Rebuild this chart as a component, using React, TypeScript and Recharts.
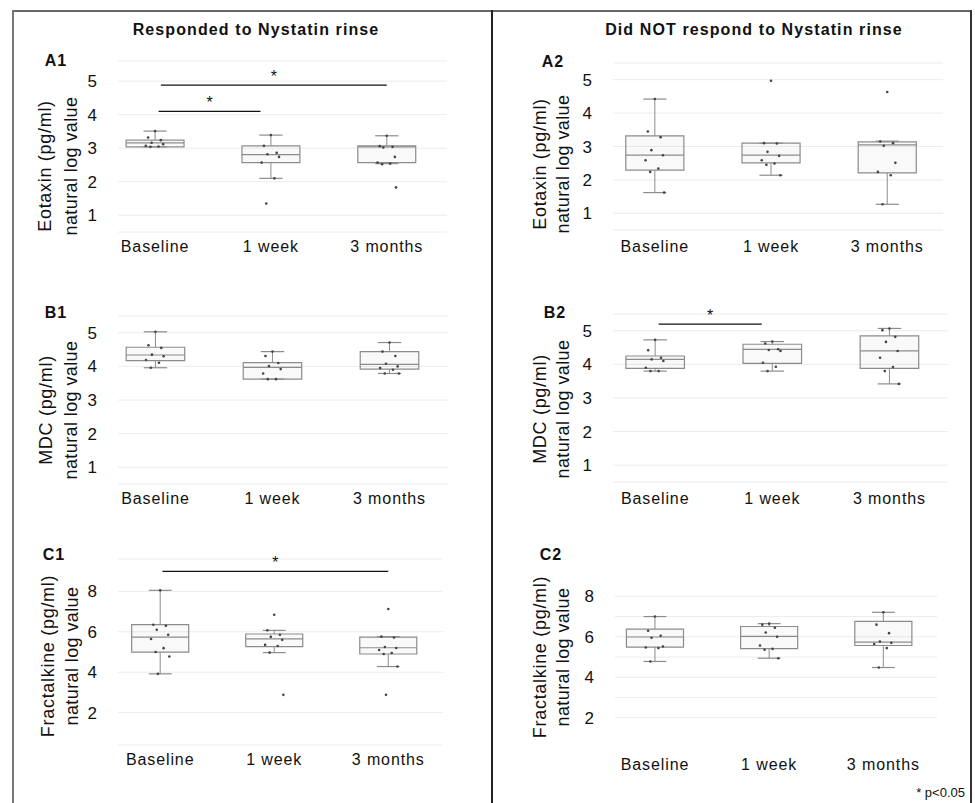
import {
  ComposedChart,
  XAxis,
  YAxis,
  CartesianGrid,
  Scatter,
  ReferenceArea,
  ReferenceLine,
} from 'recharts'

const CATEGORIES = ['Baseline', '1 week', '3 months']

// box stats per time point: [lower whisker, Q1, median, Q3, upper whisker]
const A1_BOXES = [
  [3.04, 3.04, 3.16, 3.24, 3.51],
  [2.1, 2.57, 2.81, 3.07, 3.39],
  [2.54, 2.57, 3.04, 3.07, 3.37],
]
const A1_POINTS = [
  [3.51, 3.32, 3.24, 3.16, 3.12, 3.07, 3.05, 3.04],
  [3.39, 3.07, 2.86, 2.82, 2.74, 2.57, 2.1, 1.35],
  [3.37, 3.06, 3.04, 3.02, 2.74, 2.57, 2.54, 2.52, 1.83],
]

const A2_BOXES = [
  [1.62, 2.29, 2.74, 3.32, 4.42],
  [2.14, 2.51, 2.74, 3.1, 3.1],
  [1.27, 2.21, 3.05, 3.14, 3.16],
]
const A2_POINTS = [
  [4.42, 3.45, 3.28, 2.89, 2.74, 2.59, 2.34, 2.24, 1.62],
  [4.97, 3.1, 3.09, 2.84, 2.72, 2.59, 2.49, 2.45, 2.14],
  [4.63, 3.15, 3.1, 3.02, 2.51, 2.24, 2.14, 1.27],
]

const B1_BOXES = [
  [3.96, 4.17, 4.34, 4.57, 5.03],
  [3.62, 3.62, 3.97, 4.11, 4.44],
  [3.79, 3.92, 4.06, 4.44, 4.71],
]
const B1_POINTS = [
  [5.03, 4.63, 4.55, 4.35, 4.3, 4.19, 4.11, 3.96],
  [4.44, 4.31, 4.1, 4.01, 3.92, 3.79, 3.62, 3.62],
  [4.71, 4.44, 4.31, 4.08, 4.0, 3.95, 3.9, 3.79, 3.79],
]

const B2_BOXES = [
  [3.8, 3.88, 4.15, 4.25, 4.73],
  [3.8, 4.03, 4.45, 4.6, 4.68],
  [3.42, 3.88, 4.4, 4.85, 5.07],
]
const B2_POINTS = [
  [4.73, 4.42, 4.2, 4.15, 4.1, 3.9, 3.8, 3.8],
  [4.68, 4.62, 4.45, 4.43, 4.4, 4.05, 3.93, 3.8],
  [5.07, 5.02, 4.82, 4.67, 4.4, 4.2, 3.92, 3.8, 3.42],
]

const C1_BOXES = [
  [3.92, 4.99, 5.74, 6.35, 8.05],
  [4.97, 5.27, 5.65, 5.89, 6.07],
  [4.28, 4.9, 5.21, 5.74, 5.76],
]
const C1_POINTS = [
  [8.05, 6.35, 6.3, 6.1, 5.85, 5.64, 5.19, 5.0, 4.78, 3.92],
  [6.84, 6.07, 5.85, 5.75, 5.6, 5.35, 5.3, 4.97, 2.88],
  [7.13, 5.76, 5.72, 5.25, 5.2, 5.1, 4.95, 4.9, 4.28, 2.88],
]

const C2_BOXES = [
  [4.78, 5.49, 5.99, 6.38, 7.0],
  [4.94, 5.41, 6.02, 6.51, 6.65],
  [4.48, 5.57, 5.74, 6.76, 7.21],
]
const C2_POINTS = [
  [7.0, 6.3, 6.05, 5.95, 5.52, 5.47, 5.44, 4.78],
  [6.65, 6.6, 6.45, 6.21, 6.0, 5.57, 5.4, 5.36, 4.94],
  [7.21, 6.6, 6.18, 5.77, 5.7, 5.64, 5.44, 4.48],
]

// significance brackets (category positions, y level)
const A1_SIG = [
  { from: 0.05, to: 2.0, level: 4.88 },
  { from: 0.03, to: 0.91, level: 4.1 },
]
const B2_SIG = [{ from: 0.03, to: 0.91, level: 5.2 }]
const C1_SIG = [{ from: 0.02, to: 2.0, level: 8.99 }]

const LOG_TICKS = [1, 2, 3, 4, 5]
const FRAC_TICKS = [2, 4, 6, 8]

// small horizontal spread for the dots
const JITTER = [0, -0.06, 0.05, -0.03, 0.07, -0.08, 0.03, -0.04, 0.08, -0.02]
const BOX_HALF = 0.25
const CAP_HALF = 0.1
const BOX_STROKE = '#8c8c8c'
const FONT = '"Liberation Sans", Arial, Helvetica, sans-serif'

type Bracket = { from: number; to: number; level: number }
type PanelCfg = {
  boxes: number[][]
  points: number[][]
  brackets: Bracket[]
  yDomain: [number, number]
  yTicks: number[]
  grid?: number[]
  xDomain: [number, number]
  plot: { left: number; top: number; width: number; height: number }
  labelGap: number
}

const PANELS: PanelCfg[] = [
  {
    boxes: A1_BOXES, points: A1_POINTS, brackets: A1_SIG,
    yDomain: [0.5, 5.6], yTicks: LOG_TICKS, xDomain: [-0.32, 2.52],
    plot: { left: 118, top: 61, width: 329, height: 171 }, labelGap: 9,
  },
  {
    boxes: B1_BOXES, points: B1_POINTS, brackets: [],
    yDomain: [0.5, 5.5], yTicks: LOG_TICKS, xDomain: [-0.32, 2.5],
    plot: { left: 118, top: 316, width: 330, height: 168 }, labelGap: 9,
  },
  {
    boxes: C1_BOXES, points: C1_POINTS, brackets: C1_SIG,
    yDomain: [0.4, 9.6], yTicks: FRAC_TICKS, xDomain: [-0.37, 2.48],
    plot: { left: 118, top: 559, width: 325, height: 186 }, labelGap: 9,
  },
  {
    boxes: A2_BOXES, points: A2_POINTS, brackets: [],
    yDomain: [0.5, 5.5], yTicks: LOG_TICKS, xDomain: [-0.36, 2.48],
    plot: { left: 613, top: 63, width: 330, height: 167 }, labelGap: 11,
  },
  {
    boxes: B2_BOXES, points: B2_POINTS, brackets: B2_SIG,
    yDomain: [0.5, 5.5], yTicks: LOG_TICKS, xDomain: [-0.36, 2.5],
    plot: { left: 613, top: 314, width: 335, height: 168 }, labelGap: 11,
  },
  {
    boxes: C2_BOXES, points: C2_POINTS, brackets: [],
    yDomain: [0.45, 9.6], yTicks: FRAC_TICKS, grid: [2, 3, 4, 5, 6, 7, 8], xDomain: [-0.35, 2.47],
    plot: { left: 615, top: 564, width: 322, height: 185 }, labelGap: 10,
  },
]

const PANEL_LETTERS = [
  { text: 'A1', x: 56, y: 61 },
  { text: 'B1', x: 56, y: 313 },
  { text: 'C1', x: 54, y: 555 },
  { text: 'A2', x: 553, y: 62 },
  { text: 'B2', x: 555, y: 313 },
  { text: 'C2', x: 551, y: 555 },
]

const Y_TITLES = [
  { lines: ['Eotaxin (pg/ml)', 'natural log value'], x1: 45, x2: 71, y: 166 },
  { lines: ['MDC (pg/ml)', 'natural log value'], x1: 46, x2: 71, y: 410 },
  { lines: ['Fractalkine (pg/ml)', 'natural log value'], x1: 48, x2: 72, y: 656 },
  { lines: ['Eotaxin (pg/ml)', 'natural log value'], x1: 540, x2: 563, y: 164 },
  { lines: ['MDC (pg/ml)', 'natural log value'], x1: 540, x2: 563, y: 409 },
  { lines: ['Fractalkine (pg/ml)', 'natural log value'], x1: 540, x2: 563, y: 657 },
]

function Dot(props: any) {
  const { cx, cy } = props
  if (cx == null || cy == null) return null
  return <circle cx={cx} cy={cy} r={1.3} fill="#444" />
}

function BoxPanel({ cfg }: { cfg: PanelCfg }) {
  const { plot } = cfg
  const pts = cfg.points.flatMap((vals, i) =>
    vals.map((v, j) => ({ x: i + JITTER[j % JITTER.length], y: v }))
  )

  const boxEls = cfg.boxes.flatMap(([lo, q1, med, q3, hi], i) => [
    <ReferenceLine key={`wl${i}`} segment={[{ x: i, y: lo }, { x: i, y: q1 }]} stroke={BOX_STROKE} strokeWidth={1} />,
    <ReferenceLine key={`wh${i}`} segment={[{ x: i, y: q3 }, { x: i, y: hi }]} stroke={BOX_STROKE} strokeWidth={1} />,
    <ReferenceLine key={`cl${i}`} segment={[{ x: i - CAP_HALF, y: lo }, { x: i + CAP_HALF, y: lo }]} stroke={BOX_STROKE} strokeWidth={1.2} />,
    <ReferenceLine key={`ch${i}`} segment={[{ x: i - CAP_HALF, y: hi }, { x: i + CAP_HALF, y: hi }]} stroke={BOX_STROKE} strokeWidth={1.2} />,
    <ReferenceArea
      key={`bx${i}`}
      x1={i - BOX_HALF}
      x2={i + BOX_HALF}
      y1={q1}
      y2={q3}
      fill="#000"
      fillOpacity={0.025}
      stroke={BOX_STROKE}
      strokeWidth={1.2}
    />,
    <ReferenceLine key={`md${i}`} segment={[{ x: i - BOX_HALF, y: med }, { x: i + BOX_HALF, y: med }]} stroke={BOX_STROKE} strokeWidth={1.2} />,
  ])

  const sigEls = cfg.brackets.map((b, k) => (
    <ReferenceLine
      key={`sig${k}`}
      segment={[{ x: b.from, y: b.level }, { x: b.to, y: b.level }]}
      stroke="#111"
      strokeWidth={1.3}
      label={{ value: '*', position: 'top', offset: 3, fontSize: 16, fill: '#111' }}
    />
  ))

  return (
    <div style={{ position: 'absolute', left: plot.left - 100, top: plot.top - 30 }}>
      <ComposedChart
        width={plot.width + 110}
        height={plot.height + 70}
        margin={{ top: 30, right: 10, bottom: 0, left: 0 }}
      >
        <CartesianGrid vertical={false} stroke="#ececec" horizontalValues={cfg.grid} />
        <XAxis
          type="number"
          dataKey="x"
          domain={cfg.xDomain}
          ticks={[0, 1, 2]}
          interval={0}
          allowDataOverflow
          tickFormatter={(v: number) => CATEGORIES[v]}
          axisLine={false}
          tickLine={false}
          tickSize={0}
          tickMargin={cfg.labelGap}
          height={40}
          tick={{ fontSize: 16, fill: '#111', letterSpacing: 0.9 }}
        />
        <YAxis
          type="number"
          dataKey="y"
          domain={cfg.yDomain}
          ticks={cfg.yTicks}
          interval={0}
          allowDataOverflow
          axisLine={false}
          tickLine={false}
          tickSize={0}
          tickMargin={21}
          width={100}
          tick={{ fontSize: 17, fill: '#111' }}
        />
        {boxEls}
        {sigEls}
        <Scatter data={pts} dataKey="y" shape={<Dot />} isAnimationActive={false} />
      </ComposedChart>
    </div>
  )
}

const textBase: React.CSSProperties = {
  position: 'absolute',
  whiteSpace: 'nowrap',
  color: '#111',
  lineHeight: 1,
}

export default function App() {
  return (
    <div
      style={{
        position: 'absolute',
        left: 0,
        top: 0,
        width: 975,
        height: 803,
        background: '#fff',
        fontFamily: FONT,
        overflow: 'hidden',
      }}
    >
      {/* frame */}
      <div style={{ position: 'absolute', left: 12, top: 10, width: 960, height: 2, background: '#666' }} />
      <div style={{ position: 'absolute', left: 12, top: 10, width: 2, height: 793, background: '#777' }} />
      <div style={{ position: 'absolute', left: 970, top: 10, width: 1.5, height: 793, background: '#333' }} />
      <div style={{ position: 'absolute', left: 491, top: 10, width: 2, height: 793, background: '#222' }} />

      <div style={{ ...textBase, left: 256, top: 30, transform: 'translate(-50%,-50%)', fontWeight: 700, fontSize: 16, letterSpacing: 1.1 }}>
        Responded to Nystatin rinse
      </div>
      <div style={{ ...textBase, left: 754, top: 30, transform: 'translate(-50%,-50%)', fontWeight: 700, fontSize: 16, letterSpacing: 1.1 }}>
        Did NOT respond to Nystatin rinse
      </div>

      {PANEL_LETTERS.map((p) => (
        <div
          key={p.text}
          style={{ ...textBase, left: p.x, top: p.y, transform: 'translate(-50%,-50%)', fontWeight: 700, fontSize: 16, letterSpacing: 1 }}
        >
          {p.text}
        </div>
      ))}

      {Y_TITLES.map((t, i) => (
        <div key={i}>
          <div style={{ ...textBase, left: t.x1, top: t.y, transform: 'translate(-50%,-50%) rotate(-90deg)', fontSize: 18, letterSpacing: 0.7 }}>
            {t.lines[0]}
          </div>
          <div style={{ ...textBase, left: t.x2, top: t.y, transform: 'translate(-50%,-50%) rotate(-90deg)', fontSize: 18, letterSpacing: 0.4 }}>
            {t.lines[1]}
          </div>
        </div>
      ))}

      {PANELS.map((cfg, i) => (
        <BoxPanel key={i} cfg={cfg} />
      ))}

      <div style={{ ...textBase, right: 975 - 965, top: 792, transform: 'translateY(-50%)', fontSize: 13 }}>
        * p&lt;0.05
      </div>
    </div>
  )
}
